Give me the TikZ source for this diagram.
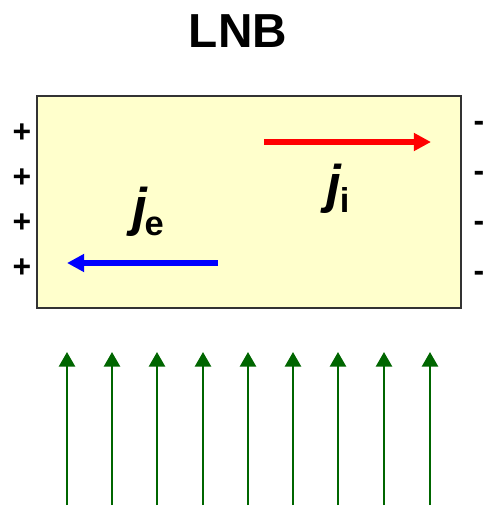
\documentclass[tikz,border=0pt]{standalone}
\usepackage{fontspec}
\setmainfont{Liberation Sans}
\usetikzlibrary{arrows.meta, positioning}
\definecolor{platefill}{HTML}{FFFFCC}
\definecolor{plateedge}{HTML}{333333}
\definecolor{fieldgreen}{HTML}{006600}
\definecolor{ionred}{HTML}{FF0000}
\definecolor{elecblue}{HTML}{0000FF}

\tikzset{
  charge/.style={font=\fontsize{24}{24}\selectfont\bfseries, anchor=base, inner sep=0pt},
  current/.style={line width=3.8pt, -{Triangle[length=13pt, width=13pt]}},
  fieldline/.style={fieldgreen, line width=2pt, -{Triangle[length=11pt, width=12pt]}},
  symb/.style={font=\fontsize{40}{40}\selectfont\bfseries}
}

\begin{document}
\begin{tikzpicture}[x=0.0265cm, y=-0.0265cm]
  \useasboundingbox (0,0) rectangle (485,507);

  % Title
  \node[font=\fontsize{36}{36}\selectfont\bfseries] (title) at (238,31) {LNB};

  % Plate
  \node[draw=plateedge, fill=platefill, line width=0.8pt, inner sep=0pt,
        minimum width=424*0.0265cm, minimum height=212*0.0265cm] (plate) at (249,202) {};

  % Charges
  \foreach \yy [count=\k] in {131,176,221,266}
    \node[charge] (plus\k) at (22,\yy+11) {+};
  \foreach \yy [count=\k] in {121,171,221,271}
    \node[charge] (minus\k) at (479,\yy+10) {-};

  % Currents
  \coordinate (ionstart) at (264,142);
  \coordinate (ionend) at (431,142);
  \draw[current, ionred] (ionstart) -- (ionend);
  \coordinate (elecstart) at (218,263);
  \coordinate (elecend) at (67,263);
  \draw[current, elecblue] (elecstart) -- (elecend);

  \node[symb] (jelabel) at (148,212) {\textit{j}\kern-0.06em\raisebox{-0.18em}{\fontsize{26}{26}\selectfont e}};
  \node[symb] (jilabel) at (338,189) {\textit{j}\kern-0.04em\raisebox{-0.18em}{\fontsize{26}{26}\selectfont i}};

  % Field lines
  \foreach \xx [count=\k] in {67,112,157,203,248,293,338,384,430} {
    \coordinate (fbase\k) at (\xx,505);
    \coordinate (ftip\k) at (\xx,352);
    \draw[fieldline] (fbase\k) -- (ftip\k);
  }
\end{tikzpicture}
\end{document}
